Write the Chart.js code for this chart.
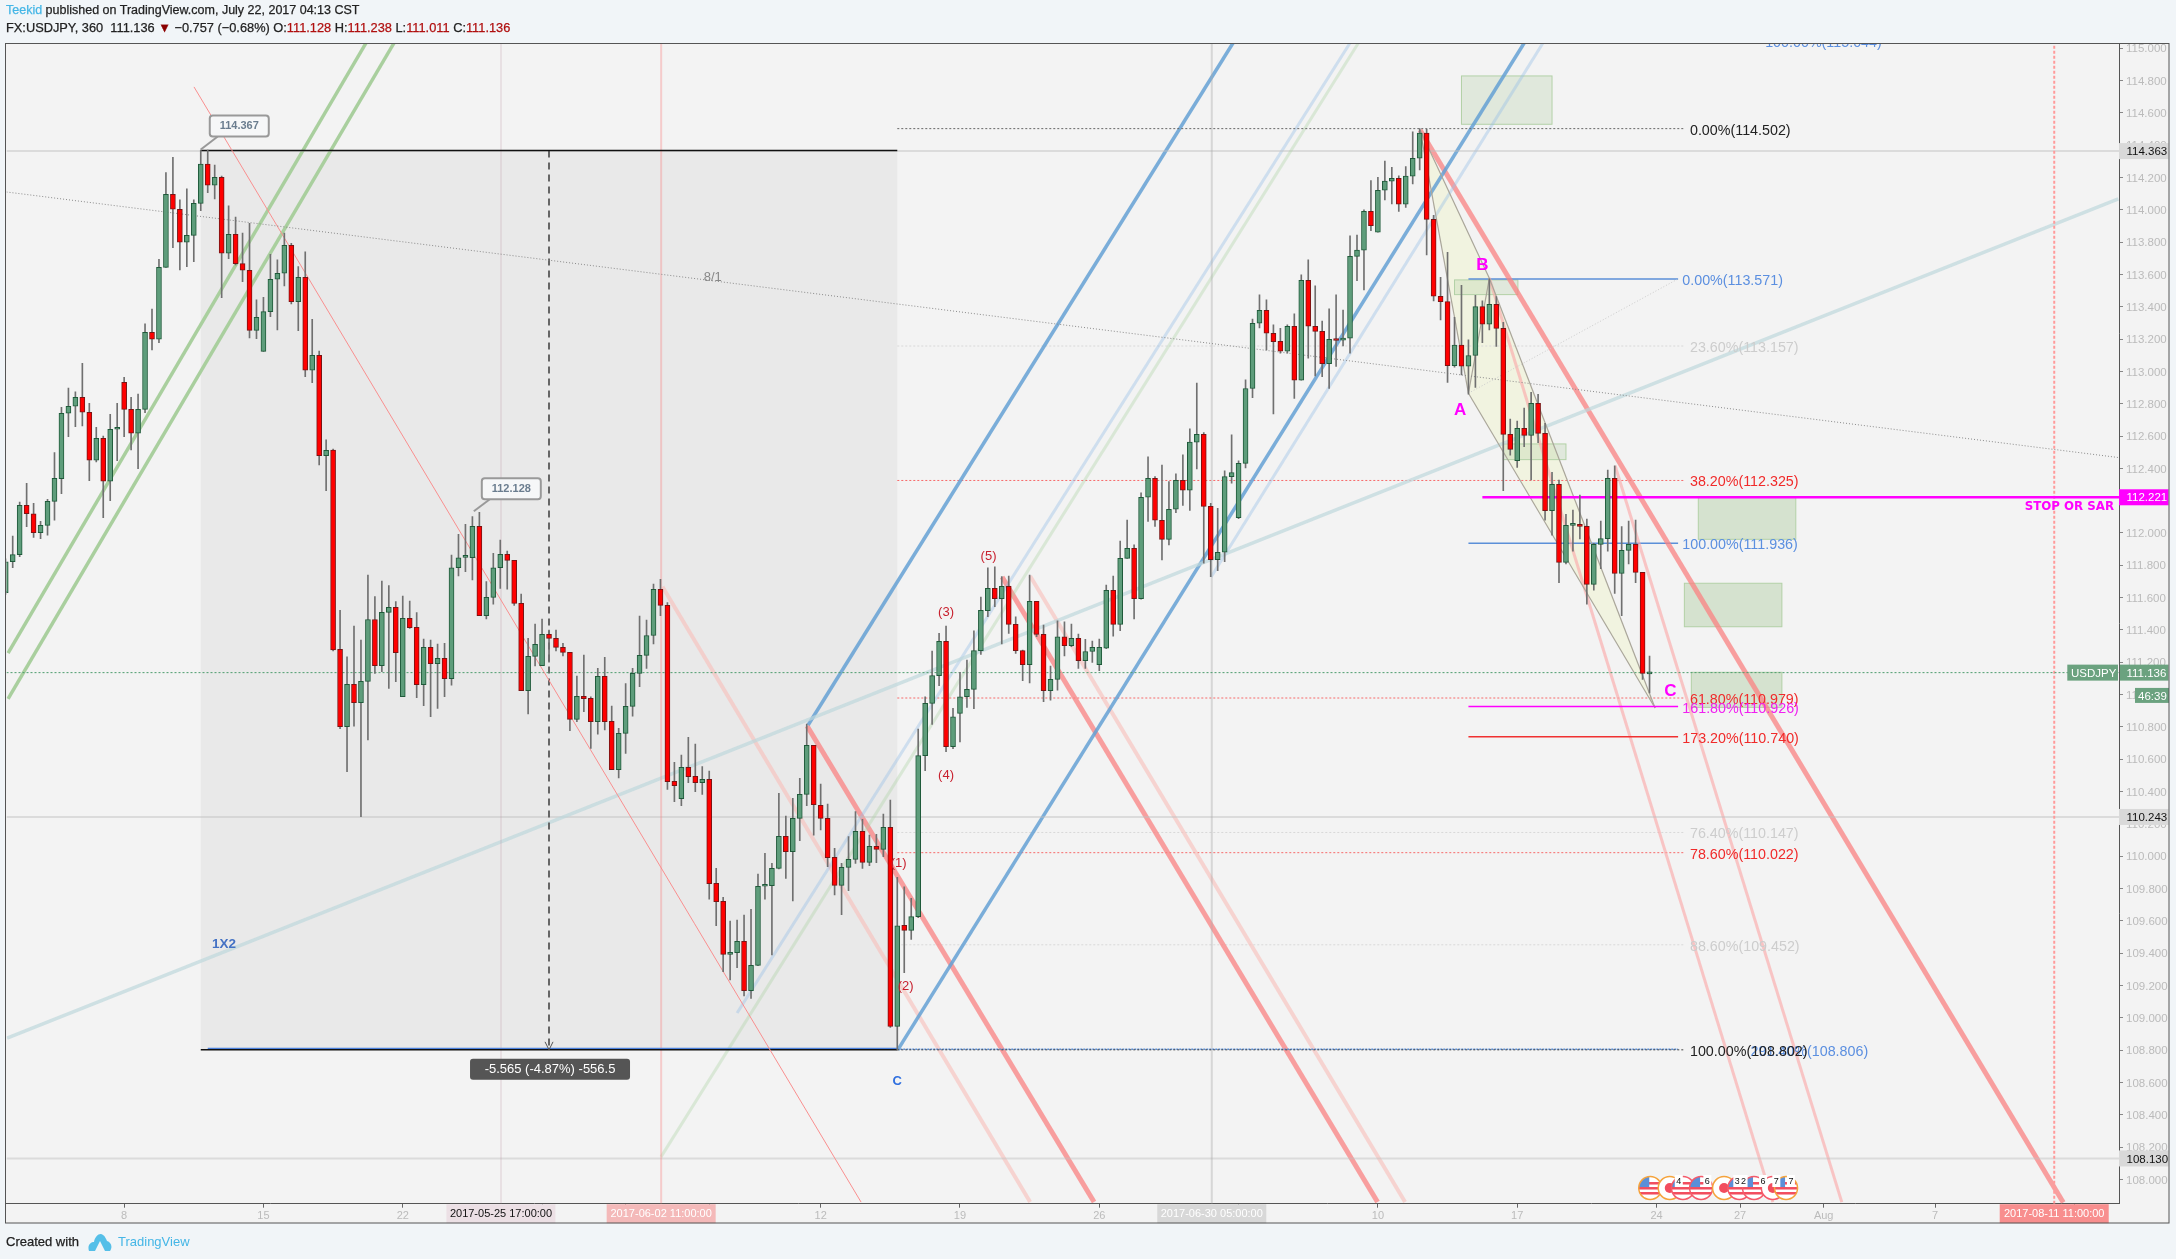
<!DOCTYPE html>
<html>
<head>
<meta charset="utf-8">
<title>USDJPY</title>
<script src="https://cdn.jsdelivr.net/npm/chart.js@4"></script>
<style>
  html, body { margin: 0; padding: 0; background: #f1f5f8; }
  #wrap { position: relative; width: 2176px; height: 1259px; overflow: hidden; }
  canvas { position: absolute; left: 0; top: 0; }
  .txt { position: absolute; left: 6px; white-space: pre; font-family: "Liberation Sans", Arial, sans-serif; font-size: 12.5px; color: #222; -webkit-text-stroke: 0.25px; }
  .blue { color: #45b6e6; }
  .red { color: #b01010; }
  .logo { position: absolute; left: 88px; top: 1232px; }
</style>
</head>
<body>
<div id="wrap">
  <canvas id="myChart" width="2176" height="1259"></canvas>
  <div class="txt" style="top:3px"><span class="blue">Teekid</span> published on TradingView.com, July 22, 2017 04:13 CST</div>
  <div class="txt" style="top:20px;font-size:12.8px">FX:USDJPY, 360  111.136 <span style="color:#8b0000">▼</span> −0.757 (−0.68%) O:<span class="red">111.128</span> H:<span class="red">111.238</span> L:<span class="red">111.011</span> C:<span class="red">111.136</span></div>
  <div class="txt" style="top:1234px;font-size:13px">Created with</div>
  <svg class="logo" width="24" height="20" viewBox="0 0 24 20"><path d="M1 19 C-1 13 3 10 6 10 C7 4 12 0 15 3 C17 4 18 7 19 9 C23 10 25 15 22 19 L17 19 L12 9 L7 19 Z" fill="#55bfe8"/></svg>
  <div class="txt blue" style="top:1234px;left:118px;font-size:13px;-webkit-text-stroke:0">TradingView</div>
</div>
<script>
// 6h candles, bar 0 is the one cut by the left edge
const opens = [
  111.631,111.822,111.866,112.171,112.119,112.002,112.047,112.196,112.336,112.741,
  112.784,112.84,112.747,112.45,112.586,112.32,112.642,112.933,112.765,112.617,
  112.765,113.242,113.199,113.644,114.096,114.003,113.799,113.842,114.04,114.282,
  114.152,114.201,113.731,113.848,113.667,113.626,113.254,113.124,113.37,113.57,
  113.607,113.78,113.432,113.582,113.007,113.1,112.479,112.513,111.28,110.801,
  111.063,110.95,111.082,111.465,111.179,111.509,111.54,110.987,111.472,111.416,
  111.061,111.292,111.191,111.224,111.098,111.785,111.849,111.847,112.041,111.488,
  111.602,111.785,111.868,111.831,111.565,111.024,111.237,111.179,111.373,111.348,
  111.292,111.261,110.847,110.989,110.977,110.832,111.113,110.834,110.535,110.76,
  110.927,111.131,111.243,111.366,111.651,111.552,110.463,110.356,110.55,110.494,
  110.455,110.476,109.832,109.721,109.393,109.403,109.473,109.168,109.325,109.814,
  109.818,109.925,110.123,110.028,110.234,110.383,110.686,110.315,110.234,109.993,
  109.82,109.931,109.981,110.154,109.962,110.061,110.042,110.179,108.947,109.572,
  109.541,109.626,110.622,110.946,111.117,111.329,110.678,110.884,110.987,111.032,
  111.272,111.52,111.657,111.593,111.67,111.435,111.272,111.185,111.577,111.373,
  111.024,111.094,111.358,111.303,111.348,111.21,111.267,111.185,111.288,111.645,
  111.435,111.843,111.905,111.593,112.221,112.339,112.079,111.961,112.147,112.326,
  112.265,112.562,112.611,112.165,111.835,111.881,112.349,112.095,112.431,112.894,
  113.298,113.378,113.236,113.186,113.125,113.279,112.945,113.564,113.279,113.248,
  113.048,113.199,113.193,113.205,113.712,113.75,113.991,113.861,114.121,114.177,
  114.195,114.034,114.208,114.319,114.474,113.941,113.465,113.432,113.036,113.162,
  113.032,113.098,113.401,113.292,113.415,113.266,112.61,112.447,112.647,112.604,
  112.802,112.616,112.138,112.301,111.818,112.047,112.053,112.041,111.682,111.93,
  111.965,112.338,111.75,111.892,111.93,111.756,111.128];
const highs = [
  111.84,111.981,112.192,112.307,112.183,112.072,112.208,112.497,112.778,112.897,
  112.873,113.05,112.803,112.654,112.6,112.735,112.803,112.963,112.84,112.86,
  113.294,113.386,113.694,114.23,114.325,114.061,114.129,114.061,114.37,114.37,
  114.277,114.209,114.024,113.954,113.855,113.916,113.442,113.458,113.725,113.69,
  113.855,113.793,113.648,113.739,113.322,113.126,112.576,112.52,111.522,111.234,
  111.424,111.338,111.74,111.606,111.703,111.674,111.575,111.61,111.579,111.507,
  111.344,111.338,111.313,111.317,111.864,111.992,112.053,112.101,112.128,111.699,
  111.874,111.956,111.888,111.83,111.622,111.348,111.437,111.468,111.4,111.4,
  111.317,111.261,111.115,111.245,110.987,111.162,111.23,110.929,110.791,111.069,
  111.162,111.486,111.461,111.684,111.713,111.569,110.581,110.626,110.736,110.694,
  110.554,110.527,109.925,109.745,109.599,109.605,109.636,109.671,109.89,110.018,
  109.956,110.389,110.249,110.358,110.482,110.818,110.686,110.447,110.323,110.049,
  109.956,110.121,110.276,110.228,110.131,110.135,110.261,110.348,109.869,109.811,
  109.739,110.787,110.987,111.27,111.379,111.424,110.915,111.138,111.214,111.395,
  111.604,111.785,111.791,111.73,111.734,111.482,111.276,111.74,111.577,111.43,
  111.177,111.457,111.451,111.437,111.375,111.342,111.331,111.344,111.678,111.734,
  111.95,112.08,111.926,112.249,112.471,112.349,112.421,112.318,112.366,112.483,
  112.644,112.927,112.621,112.184,112.153,112.384,112.607,112.446,112.947,113.323,
  113.473,113.442,113.288,113.267,113.288,113.356,113.597,113.69,113.529,113.312,
  113.387,113.473,113.38,113.838,113.844,113.999,114.181,114.201,114.302,114.263,
  114.21,114.267,114.482,114.502,114.498,113.966,113.582,113.737,113.335,113.533,
  113.195,113.471,113.436,113.572,113.463,113.303,112.705,112.693,112.773,112.87,
  112.858,112.678,112.375,112.328,112.115,112.142,112.235,112.086,111.936,112.074,
  112.39,112.416,112.039,112.074,112.08,111.756,111.238];
const lows = [
  111.62,111.785,111.853,112.039,111.973,111.965,111.987,112.08,112.244,112.596,
  112.658,112.662,112.324,112.44,112.095,112.2,112.448,112.596,112.514,112.398,
  112.745,113.133,113.178,113.644,113.766,113.628,113.648,113.679,113.995,114.106,
  114.067,113.456,113.698,113.659,113.555,113.207,113.203,113.124,113.339,113.256,
  113.529,113.417,113.252,112.968,112.93,112.421,112.262,111.27,110.789,110.523,
  110.805,110.244,110.719,111.131,111.142,111.038,111.08,110.987,111.41,110.981,
  110.931,110.863,110.915,110.987,111.059,111.734,111.76,111.709,111.488,111.468,
  111.56,111.657,111.653,111.552,111.024,110.88,111.177,111.179,111.2,111.27,
  111.239,110.777,110.832,110.894,110.667,110.756,110.781,110.535,110.484,110.636,
  110.867,111.049,111.162,111.313,111.488,110.413,110.337,110.313,110.455,110.4,
  110.383,109.735,109.57,109.285,109.234,109.31,109.135,109.12,109.323,109.735,
  109.389,109.921,109.863,109.723,110.096,110.313,110.131,110.162,109.935,109.76,
  109.638,109.787,109.956,109.925,109.941,109.96,109.997,108.941,108.802,109.279,
  109.485,109.62,110.529,110.816,111.055,110.647,110.665,110.708,110.921,110.913,
  111.249,111.482,111.544,111.313,111.379,111.255,111.086,111.072,111.358,110.956,
  110.966,111.028,111.239,111.296,111.162,111.162,111.199,111.148,111.284,111.362,
  111.395,111.843,111.468,111.591,112.071,112.04,111.833,111.926,112.126,112.17,
  112.139,112.396,111.813,111.73,111.767,111.823,112.308,112.089,112.403,112.838,
  113.269,113.133,112.737,113.112,113.112,112.832,112.945,113.081,112.972,112.968,
  112.894,113.03,113.158,113.112,113.562,113.504,113.871,113.861,114.061,114.036,
  113.989,114.014,114.16,114.247,113.721,113.436,113.319,112.931,113.026,112.978,
  112.859,112.9,113.178,113.257,113.154,112.262,112.482,112.406,112.534,112.328,
  112.559,112.08,111.987,111.692,111.808,111.888,111.963,111.56,111.647,111.779,
  111.888,111.626,111.488,111.808,111.692,111.094,111.011];
const closes = [
  111.822,111.866,112.171,112.119,112.002,112.047,112.196,112.338,112.741,112.784,
  112.84,112.747,112.45,112.586,112.32,112.642,112.642,112.765,112.617,112.765,
  113.242,113.199,113.644,114.096,114.003,113.799,113.842,114.04,114.282,114.152,
  114.201,113.731,113.848,113.667,113.626,113.254,113.335,113.37,113.57,113.607,
  113.78,113.432,113.582,113.007,113.1,112.479,112.512,111.276,110.801,111.063,
  110.95,111.082,111.465,111.179,111.509,111.54,111.259,111.472,111.414,111.061,
  111.292,111.191,111.224,111.098,111.785,111.847,111.849,112.041,111.488,111.602,
  111.785,111.868,111.831,111.565,111.024,111.237,111.311,111.373,111.348,111.292,
  111.261,110.847,110.989,110.975,110.832,111.113,110.832,110.535,110.76,110.927,
  111.131,111.243,111.366,111.651,111.552,110.461,110.436,110.55,110.492,110.455,
  110.476,109.83,109.719,109.393,109.403,109.473,109.168,109.325,109.814,109.818,
  109.925,110.123,110.028,110.234,110.383,110.686,110.319,110.234,109.991,109.82,
  109.931,109.981,110.154,109.962,110.061,110.042,110.179,108.947,109.57,109.541,
  109.626,110.622,110.946,111.117,111.329,110.678,110.863,110.987,111.032,111.272,
  111.521,111.657,111.593,111.67,111.435,111.272,111.185,111.577,111.373,111.024,
  111.094,111.358,111.303,111.348,111.21,111.267,111.292,111.292,111.645,111.435,
  111.843,111.905,111.593,112.22,112.339,112.079,111.961,112.147,112.326,112.265,
  112.562,112.611,112.165,111.835,111.881,112.349,112.374,112.431,112.894,113.298,
  113.378,113.236,113.184,113.125,113.279,112.945,113.564,113.279,113.248,113.048,
  113.199,113.191,113.205,113.712,113.75,113.991,113.902,114.121,114.177,114.195,
  114.034,114.208,114.319,114.474,113.941,113.465,113.432,113.036,113.162,113.032,
  113.098,113.401,113.292,113.415,113.266,112.61,112.517,112.647,112.604,112.802,
  112.616,112.138,112.301,111.818,112.047,112.049,112.041,111.682,111.93,111.965,
  112.338,111.75,111.892,111.93,111.756,111.131,111.136];

const xRange = [0.11, 303.4];
const yRange = [107.85, 115.03];
const yTicks = [115,114.8,114.6,114.4,114.2,114,113.8,113.6,113.4,113.2,113,112.8,112.6,112.4,112.2,112,111.8,111.6,111.4,111.2,111,110.8,110.6,110.4,110.2,110,109.8,109.6,109.4,109.2,109,108.8,108.6,108.4,108.2,108];
const xTickBars = [17,37,57,77,89,101,117,137,157,177,197,217,237,249,261,277,297];
const xTickLabels = ['8','15','22','','','','12','19','26','','10','17','24','27','Aug','7',''];

// drawings, all as [bar, price, bar, price]
const greenLines = [[0.33,111.257,51.73,115.032],[0.33,110.973,55.75,115.032]];
const thinRedLine = [27.03,114.76,122.8,107.86];
const dottedLine = [0.11,114.11,303.3,112.467];
const tealLine = [0.19,108.875,303.3,114.067];
const blueLines = [[115.2,110.812,176.2,115.032],[128.07,108.802,218,115.032]];
const paleBlueLines = [[105,109.03,193,115.032],[173.05,111.728,220.7,115.032]];
const paleGreenLine = [94.08,108.14,194.2,115.032];
const redLines = [[115.05,110.806,156.25,107.86],[143.05,111.728,196.95,107.86],[203.06,114.494,295.4,107.857]];
const paleRedLines = [[94.29,111.668,147.07,107.86],[147.07,111.734,200.9,107.86]];
const midRedLines = [[213,113.578,253.7,107.86],[231.06,112.416,263.6,107.86]];
const abDotted = [210,112.865,239.96,113.569];

// wave points X, A, B, C
const waveX = [203.06,114.494], waveA = [210,112.865], waveB = [213,113.576], waveC = [236.8,110.917];

const measureBox = [28,128,114.367,108.802];
const measureBar = 78;
const greenBoxes = [[209,222,114.828,114.529],[208,217.1,113.566,113.475],[215,224,112.551,112.454]];
const darkGreenBoxes = [[243,257,112.225,111.961],[241,255,111.689,111.42],[242,255,111.138,110.921]];

const hLevels = [114.363,110.243,108.13];
const lastPrice = 111.136;
const stopPrice = 112.221;
const vBars = [71.1,94.1,173.15,294.1];
const vLabels = ['2017-05-25 17:00:00','2017-06-02 11:00:00','2017-06-30 05:00:00','2017-08-11 11:00:00'];

const fibRed = [112.325,110.979,110.022];
const fibRedText = ['38.20%(112.325)','61.80%(110.979)','78.60%(110.022)'];
const fibPale = [113.157,110.147,109.452];
const fibPaleText = ['23.60%(113.157)','76.40%(110.147)','88.60%(109.452)'];
const fibBlue = [113.571,111.936];
const fibBlueText = ['0.00%(113.571)','100.00%(111.936)'];

const flagBars = [236.1,238.9,240.8,243.4,246.7,248.9,251,253.7,255.6];
const flagKinds = ['us','jp','us','us','jp','us','us','jp','us'];
const flagPrice = 107.947;
const tagBars = [240.2,244.3,248.6,249.5,252.3,254.2,256.3];
const tagTexts = ['4','6','3','2','6','7','7'];

const cx = document.getElementById('myChart');

function seg(p, color, width, dash) {
  return {
    type: 'line', order: 10, data: [{x:p[0],y:p[1]},{x:p[2],y:p[3]}],
    borderColor: color, borderWidth: width, borderDash: dash || [],
    pointRadius: 0, fill: false, tension: 0, borderCapStyle: 'butt'
  };
}
function hseg(a, b, v, color, width, dash) { return seg([a,v,b,v], color, width, dash); }

const bars = opens.map((o, i) => i);
const isUp = i => closes[i] >= opens[i];

const datasets = [
  {
    type: 'bar', order: 1, grouped: false, barThickness: 5, minBarLength: 2,
    data: bars.map(i => ({x:i, y:[opens[i], closes[i]]})),
    backgroundColor: bars.map(i => isUp(i) ? '#5e9d7b' : '#ff0000'),
    borderColor: bars.map(i => isUp(i) ? '#1f5a3a' : '#7a1414'),
    borderWidth: 1, borderSkipped: false
  },
  {
    type: 'bar', order: 2, grouped: false, barThickness: 1,
    data: bars.map(i => ({x:i, y:[lows[i], highs[i]]})),
    backgroundColor: '#707070', borderWidth: 0
  },
  seg(dottedLine, '#8a8a8a', 1, [1,2]),
  seg(thinRedLine, '#f98f8f', 1),
  hseg(28,128,114.367,'#111',1.5),
  hseg(28,128,108.802,'#111',1.5),
  hseg(29,128,108.81,'#4a80dc',1.5),
  hseg(128,241.1,114.502,'#666',1,[2,2]),
  hseg(128,241.1,108.802,'#444',1,[2,2]),
  hseg(128,240.1,108.806,'#5b8fd8',1.5,[2,1]),
  hseg(210,240.1,110.926,'#ff00ff',1.5),
  hseg(210,240.1,110.74,'#f03030',1.5),
  hseg(212,303.4,stopPrice,'#ff00ff',2.5),
  hseg(0.11,303.4,lastPrice,'#4c9c6d',1,[2,2]),
  seg(abDotted, '#ccc', 1, [1,2]),
  seg([waveX[0],waveX[1],waveA[0],waveA[1]], '#aaa69a', 1.2),
  seg([waveX[0],waveX[1],waveB[0],waveB[1]], '#aaa69a', 1.2),
  seg([waveA[0],waveA[1],waveB[0],waveB[1]], '#aaa69a', 1.2),
  seg([waveA[0],waveA[1],waveC[0],waveC[1]], '#aaa69a', 1.2),
  seg([waveB[0],waveB[1],waveC[0],waveC[1]], '#aaa69a', 1.2),
  seg([measureBar,114.367,measureBar,108.802], '#666', 2, [7,5]),
  seg([vBars[0],yRange[0],vBars[0],yRange[1]], 'rgba(190,150,165,.2)', 2),
  seg([vBars[1],yRange[0],vBars[1],yRange[1]], 'rgba(250,130,130,.35)', 2),
  seg([vBars[2],yRange[0],vBars[2],yRange[1]], 'rgba(170,170,170,.4)', 2),
  seg([vBars[3],yRange[0],vBars[3],yRange[1]], '#ff9a9a', 2, [3,2]),
  seg(tealLine, 'rgba(190,215,220,.7)', 3.5),
  seg(paleGreenLine, 'rgba(170,210,160,.35)', 3)
];
hLevels.forEach(v => datasets.push(hseg(xRange[0],xRange[1],v,'rgba(190,190,190,.45)',2)));
greenLines.forEach(p => datasets.push(seg(p,'#a9cf9e',3.5)));
blueLines.forEach(p => datasets.push(seg(p,'rgba(100,160,212,.85)',3.5)));
paleBlueLines.forEach(p => datasets.push(seg(p,'rgba(150,190,230,.4)',3)));
redLines.forEach(p => datasets.push(seg(p,'rgba(250,130,130,.75)',5)));
paleRedLines.forEach(p => datasets.push(seg(p,'rgba(248,190,185,.6)',4)));
midRedLines.forEach(p => datasets.push(seg(p,'rgba(250,170,170,.65)',3)));
fibRed.forEach(v => datasets.push(hseg(128,241.1,v,'#f76a6a',1,[2,2])));
fibPale.forEach(v => datasets.push(hseg(128,241.1,v,'#d8d8d8',1,[2,2])));
fibBlue.forEach(v => datasets.push(hseg(210,240.1,v,'#5b8fd8',1.5)));

const drawings = {
  id: 'drawings',
  beforeDraw(chart) {
    const c = chart.ctx;
    c.save();
    c.fillStyle = '#f1f5f8';
    c.fillRect(0, 0, 2176, 1259);
    c.fillStyle = '#f3f3f3';
    c.fillRect(5, 43, 2164, 1180);
    c.restore();
  },
  beforeDatasetsDraw(chart) {
    const c = chart.ctx, px = v => chart.scales.x.getPixelForValue(v), py = v => chart.scales.y.getPixelForValue(v);
    const a = chart.chartArea;
    c.save();
    c.beginPath();
    c.rect(a.left, a.top, a.width, a.height);
    c.clip();
    c.fillStyle = '#e9e9e9';
    c.fillRect(px(measureBox[0]), py(measureBox[2]), px(measureBox[1]) - px(measureBox[0]), py(measureBox[3]) - py(measureBox[2]));
    c.fillStyle = 'rgba(241,243,222,.9)';
    [[waveX,waveA,waveB],[waveA,waveB,waveC]].forEach(tri => {
      c.beginPath();
      tri.forEach((p, k) => k ? c.lineTo(px(p[0]), py(p[1])) : c.moveTo(px(p[0]), py(p[1])));
      c.closePath();
      c.fill();
    });
    const box = (b, fill) => {
      c.fillStyle = fill;
      c.strokeStyle = '#b3d1a7';
      c.lineWidth = 1;
      c.fillRect(px(b[0]), py(b[2]), px(b[1]) - px(b[0]), py(b[3]) - py(b[2]));
      c.strokeRect(px(b[0]), py(b[2]), px(b[1]) - px(b[0]), py(b[3]) - py(b[2]));
    };
    greenBoxes.forEach(b => box(b, 'rgba(150,190,130,.2)'));
    darkGreenBoxes.forEach(b => box(b, 'rgba(150,190,130,.32)'));
    c.restore();
  },
  afterDatasetsDraw(chart) {
    const c = chart.ctx, px = v => chart.scales.x.getPixelForValue(v), py = v => chart.scales.y.getPixelForValue(v);
    const a = chart.chartArea;
    c.save();
    c.beginPath();
    c.rect(a.left, a.top, a.width, a.height);
    c.clip();
    c.textBaseline = 'middle';
    c.textAlign = 'left';
    const fibFont = '14.3px "Liberation Sans", Arial, sans-serif';
    const put = (t, bar, v, color, font) => {
      c.fillStyle = color;
      c.font = font || fibFont;
      c.fillText(t, px(bar), py(v) + 2);
    };
    fibRed.forEach((v, k) => put(fibRedText[k], 241.8, v, '#f02a2a'));
    fibPale.forEach((v, k) => put(fibPaleText[k], 241.8, v, '#cdcdcd'));
    fibBlue.forEach((v, k) => put(fibBlueText[k], 240.7, v, '#5b8fe0'));
    put('0.00%(114.502)', 241.8, 114.502, '#222');
    put('291.40%(108.806)', 250.5, 108.802, '#5b8fe0');
    put('100.00%(108.802)', 241.8, 108.802, '#222');
    put('161.80%(110.926)', 240.7, 110.926, '#f020f0');
    put('173.20%(110.740)', 240.7, 110.74, '#f02a2a');
    put('100.00%(115.044)', 252.6, 115.044, '#5b8fe0');

    const small = '13px "Liberation Sans", Arial, sans-serif';
    put('8/1', 100.2, 113.596, '#888', small);
    put('1X2', 29.6, 109.47, '#4472c4', 'bold 13.5px "Liberation Sans", Arial, sans-serif');
    put('C', 127.3, 108.62, '#2f6fdf', 'bold 13px "Liberation Sans", Arial, sans-serif');
    c.textAlign = 'center';
    [['(5)',141.1,111.87],['(3)',135,111.52],['(4)',135,110.515],['(1)',128.2,109.965],['(2)',129.2,109.205]].forEach(w => {
      put(w[0], w[1], w[2], '#c8202e', small);
    });
    const abc = 'bold 17px "Liberation Sans", Arial, sans-serif';
    put('A', 208.8, 112.77, '#ff00ff', abc);
    put('B', 212, 113.67, '#ff00ff', abc);
    put('C', 239, 111.03, '#ff00ff', abc);

    // callouts
    const callout = (t, bar, v, dx, dy) => {
      const x = px(bar), y = py(v);
      c.strokeStyle = '#999';
      c.lineWidth = 2;
      c.beginPath();
      c.moveTo(x, y - 1);
      c.lineTo(x + dx + 8, y + dy);
      c.stroke();
      c.fillStyle = '#f6f7f8';
      c.beginPath();
      c.roundRect(x + dx, y + dy - 21, 59, 21, 3);
      c.fill();
      c.stroke();
      c.fillStyle = '#6b7d8f';
      c.font = 'bold 11px "Liberation Sans", Arial, sans-serif';
      c.textAlign = 'center';
      c.fillText(t, x + dx + 29.5, y + dy - 10);
    };
    callout('114.367', 28, 114.367, 9, -14);
    callout('112.128', 67.2, 112.128, 8, -13);

    // measure tag and arrow
    const mx = px(measureBar), my = py(measureBox[3]);
    c.strokeStyle = '#555';
    c.lineWidth = 1;
    c.beginPath();
    c.moveTo(mx - 4, my - 8); c.lineTo(mx, my); c.lineTo(mx + 4, my - 8);
    c.stroke();
    c.fillStyle = '#555';
    c.beginPath();
    c.roundRect(mx - 79, my + 9, 160, 21, 3);
    c.fill();
    c.fillStyle = '#fff';
    c.font = small;
    c.textAlign = 'center';
    c.fillText('-5.565 (-4.87%) -556.5', mx + 1, my + 20);

    // event flags
    flagBars.forEach((b, k) => {
      const x = px(b), y = py(flagPrice);
      c.save();
      c.beginPath();
      c.arc(x, y, 11.5, 0, Math.PI * 2);
      c.fillStyle = '#fff';
      c.fill();
      c.clip();
      c.fillStyle = '#f24d5e';
      if (flagKinds[k] === 'jp') {
        c.beginPath();
        c.arc(x, y, 5, 0, Math.PI * 2);
        c.fill();
      } else {
        [-6, -1, 4].forEach(o => c.fillRect(x - 12, y + o, 24, 2.5));
        c.fillStyle = '#5b8fd8';
        c.fillRect(x - 12, y - 12, 11, 11);
      }
      c.restore();
      c.beginPath();
      c.arc(x, y, 11.5, 0, Math.PI * 2);
      c.strokeStyle = k < 2 || k === 4 || k === 8 ? '#f5a33c' : '#f55a6a';
      c.lineWidth = 1.5;
      c.stroke();
    });
    tagBars.forEach((b, k) => {
      const x = px(b), y = py(flagPrice) - 7;
      c.fillStyle = '#fff';
      c.fillRect(x - 4, y - 6, 8, 12);
      c.fillStyle = '#111';
      c.font = '9px "Liberation Sans", Arial, sans-serif';
      c.textAlign = 'center';
      c.fillText(tagTexts[k], x, y);
    });
    c.restore();
  },
  afterDraw(chart) {
    const c = chart.ctx, py = v => chart.scales.y.getPixelForValue(v), px = v => chart.scales.x.getPixelForValue(v);
    const a = chart.chartArea;
    const font = '11.5px "Liberation Sans", Arial, sans-serif';
    c.save();
    c.font = font;
    c.textBaseline = 'middle';
    // price tags
    const tag = (t, x, w, v, fill, color, h, align, tx) => {
      const y = py(v);
      c.fillStyle = fill;
      c.fillRect(x, y - h / 2, w, h);
      c.fillStyle = color;
      c.textAlign = align || 'left';
      c.fillText(t, tx || 2126.5, y + 1);
    };
    hLevels.forEach(v => tag(v.toFixed(3), a.right, 49.5, v, '#d9d9d9', '#111', 16));
    tag('112.221', a.right, 49.5, stopPrice, '#ff00ff', '#fff', 16);
    tag('111.136', a.right + 1, 48.5, lastPrice, '#6ba27f', '#fff', 16);
    tag('USDJPY', 2067.3, 50.7, lastPrice, '#6ba27f', '#fff', 16, 'left', 2071);
    tag('46:39', 2135, 34, 110.995, '#6ba27f', '#fff', 15, 'left', 2138);
    c.fillStyle = '#ff00ff';
    c.font = 'bold 11.8px "DejaVu Sans", sans-serif';
    c.textAlign = 'right';
    c.fillText('STOP OR SAR', a.right - 5, py(112.162));
    // time tags
    c.font = '11px "Liberation Sans", Arial, sans-serif';
    c.textAlign = 'center';
    const colors = ['#ece0e5','#f4b9b9','#d8d8d8','#f88e8e'];
    const inks = ['#111','#fff','#fff','#fff'];
    vBars.forEach((b, k) => {
      const x = px(b);
      c.fillStyle = colors[k];
      c.fillRect(x - 54.5, a.bottom + 0.5, 109, 19);
      c.fillStyle = inks[k];
      c.fillText(vLabels[k], x, a.bottom + 10.5);
    });
    // frame
    c.strokeStyle = '#555';
    c.lineWidth = 1;
    c.strokeRect(5.5, 43.5, 2163.5, 1179.5);
    c.restore();
  }
};

new Chart(cx,
  {
    type: 'bar',
    data: { datasets: datasets },
    plugins: [drawings],
    options:
    {
      responsive: false,
      animation: false,
      events: [],
      layout: { padding: { left: 6.5, top: 43.3, right: 7, bottom: 36 } },
      plugins:
      {
        legend: { display: false },
        tooltip: { enabled: false }
      },
      scales:
      {
        x:
        {
          type: 'linear',
          offset: false,
          min: xRange[0],
          max: xRange[1],
          afterFit(s) { s.height = 19.3; },
          afterBuildTicks(s) { s.ticks = xTickBars.map(v => ({ value: v })); },
          grid: { offset: false, drawOnChartArea: false, tickLength: 4, color: '#666' },
          border: { color: '#555' },
          ticks:
          {
            autoSkip: false, maxRotation: 0, padding: 2, color: '#bbb',
            font: { family: '"Liberation Sans", Arial, sans-serif', size: 11 },
            callback(v) { const k = xTickBars.indexOf(v); return k < 0 ? '' : xTickLabels[k]; }
          }
        },
        y:
        {
          position: 'right',
          min: yRange[0],
          max: yRange[1],
          afterFit(s) { s.width = 50; },
          afterBuildTicks(s) { s.ticks = yTicks.map(v => ({ value: v })); },
          grid: { drawOnChartArea: false, tickLength: 4, color: '#888' },
          border: { color: '#555' },
          ticks:
          {
            autoSkip: false, padding: 3, color: '#bbb', labelOffset: 1,
            font: { family: '"Liberation Sans", Arial, sans-serif', size: 11.5 },
            callback(v) { return Number(v).toFixed(3); }
          }
        }
      }
    }
  }
);
</script>
</body>
</html>
